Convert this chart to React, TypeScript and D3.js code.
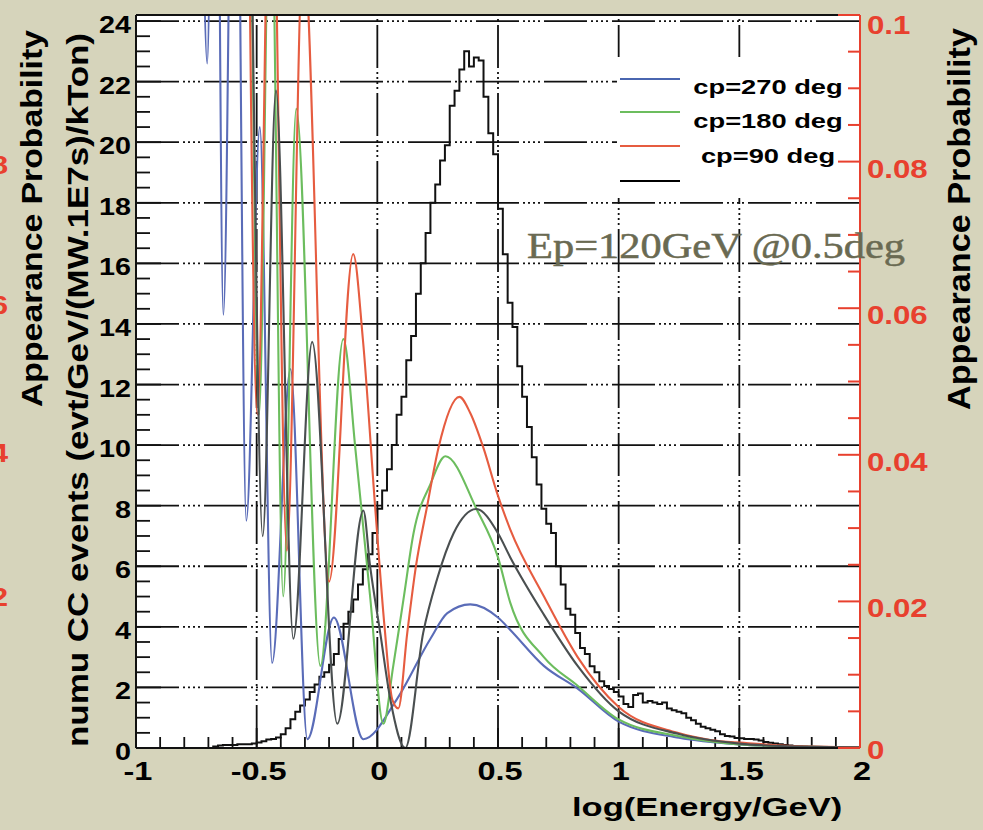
import React, { useEffect } from 'react';
import * as d3 from 'd3';

// ---------- data ----------
const xTickValues = [-1, -0.5, 0, 0.5, 1, 1.5, 2];
const xTickLabels = ['-1', '-0.5', '0', '0.5', '1', '1.5', '2'];
const yLeftTickValues = [0, 2, 4, 6, 8, 10, 12, 14, 16, 18, 20, 22, 24];
const yLeftTickLabels = ['0', '2', '4', '6', '8', '10', '12', '14', '16', '18', '20', '22', '24'];
const yRightTickValues = [0, 0.02, 0.04, 0.06, 0.08, 0.1];
const yRightTickLabels = ['0', '0.02', '0.04', '0.06', '0.08', '0.1'];
const ghostLabels = ['8', '6', '4', '2'];
const legendLabels = ['cp=270 deg', 'cp=180 deg', 'cp=90 deg', ''];

// numu CC event histogram (log E bins)
const histStart = -0.72;
const histBinWidth = 0.02;
const histValues = [
  0, 0, 0.05, 0.08, 0.1, 0.1, 0.1, 0.12, 0.12, 0.12,
  0.15, 0.18, 0.22, 0.28, 0.3, 0.35, 0.45, 0.65, 0.95, 1.2,
  1.4, 1.6, 1.85, 2.1, 2.35, 2.5, 2.75, 3.1, 3.6, 4.1,
  4.5, 4.9, 5.4, 5.9, 6.4, 7.1, 7.9, 8.5, 9.2, 10.0,
  11.0, 11.6, 12.8, 13.6, 15.0, 16.0, 17.0, 18.0, 18.6, 19.4,
  19.9, 21.2, 21.7, 22.4, 23.0, 22.5, 22.8, 22.7, 21.5, 20.3,
  19.6, 17.8, 16.3, 14.7, 13.9, 12.6, 11.6, 10.6, 9.6, 8.7,
  7.9, 7.4, 7.1, 6.0, 5.4, 4.6, 4.4, 3.8, 3.3, 3.1,
  2.7, 2.5, 2.2, 2.05, 1.95, 1.85, 1.7, 1.45, 1.35, 1.75,
  1.8, 1.5, 1.55, 1.5, 1.45, 1.5, 1.3, 1.25, 1.2, 1.15,
  1.0, 0.92, 0.8, 0.7, 0.65, 0.6, 0.55, 0.45, 0.4, 0.38,
  0.33, 0.32, 0.3, 0.3, 0.28, 0.25, 0.2, 0.17, 0.15, 0.12,
  0.1, 0.08, 0.06, 0.05, 0.04, 0.03, 0.03, 0.02, 0.02, 0.02,
  0.01, 0.01, 0.01, 0, 0, 0,
];

// appearance probability curves [log10(E/GeV), P]
const cp270: [number, number][] = [
  [-0.73, 0.132], [-0.705, 0.0934], [-0.672, 0.165], [-0.638, 0.0591], [-0.59, 0.157],
  [-0.543, 0.031], [-0.487, 0.0847], [-0.436, 0.0116], [-0.36, 0.0517], [-0.29, 0.0012],
  [-0.18, 0.0178], [-0.058, 0.0012], [0.08, 0.0066], [0.22, 0.0149], [0.29, 0.0184],
  [0.385, 0.0196], [0.5, 0.0178], [0.551, 0.0161], [0.69, 0.0112], [0.83, 0.0081],
  [1.0, 0.0036], [1.25, 0.0014], [1.5, 0.0005], [1.75, 0.0002], [2.0, 0.00005],
];
const cp180: [number, number][] = [
  [-0.56, 0.13], [-0.545, 0.15], [-0.49, 0.0455], [-0.443, 0.124], [-0.39, 0.0207],
  [-0.336, 0.0872], [-0.236, 0.0112], [-0.141, 0.0558], [-0.09, 0.0405], [-0.03, 0.0207],
  [0.025, 0.0033], [0.066, 0.0112], [0.108, 0.0202], [0.15, 0.0293], [0.22, 0.036],
  [0.282, 0.0398], [0.414, 0.0324], [0.5, 0.026], [0.551, 0.0198], [0.69, 0.0124],
  [0.83, 0.0085], [1.0, 0.0039], [1.25, 0.0016], [1.5, 0.0005], [1.75, 0.0002], [2.0, 0.00005],
];
const cp90: [number, number][] = [
  [-0.54, 0.14], [-0.497, 0.0455], [-0.44, 0.132], [-0.375, 0.0269], [-0.307, 0.1095],
  [-0.2, 0.0227], [-0.1, 0.0674], [-0.06, 0.0558], [-0.008, 0.0324], [0.03, 0.0165],
  [0.062, 0.0066], [0.087, 0.0054], [0.124, 0.0157], [0.16, 0.0248], [0.207, 0.0331],
  [0.253, 0.0409], [0.34, 0.0479], [0.385, 0.0457], [0.44, 0.0409], [0.497, 0.0347],
  [0.551, 0.0298], [0.69, 0.0207], [0.83, 0.0124], [1.0, 0.0056], [1.24, 0.0021],
  [1.38, 0.0011], [1.52, 0.0007], [1.7, 0.0003], [2.0, 0.0001],
];
const cp0: [number, number][] = [
  [-0.6, 0.124], [-0.545, 0.14], [-0.475, 0.0289], [-0.42, 0.0897], [-0.348, 0.0149],
  [-0.27, 0.0554], [-0.166, 0.0033], [-0.058, 0.0324], [-0.03, 0.0248], [0.012, 0.0157],
  [0.054, 0.0066], [0.116, 0.0], [0.19, 0.0157], [0.248, 0.0231], [0.316, 0.0293],
  [0.41, 0.0326], [0.5, 0.0293], [0.551, 0.026], [0.69, 0.0182], [0.83, 0.0112],
  [1.0, 0.005], [1.25, 0.0019], [1.5, 0.0006], [1.75, 0.0002], [2.0, 0.0001],
];

const curveSeries = [cp270, cp180, cp90, cp0];
const curveColors = ['#5a6cb8', '#6cbd5e', '#e65c40', '#4a4f50'];
const legendColors = ['#4a66b0', '#6cbd5e', '#e65c40', '#000000'];

const SANS = '"Liberation Sans", Arial, Helvetica, sans-serif';
const SERIF = '"Liberation Serif", "DejaVu Serif", serif';
const RED = '#e8402e';
const BG = '#d6d4bb';

export default function App() {
  useEffect(() => {
    document.body.style.margin = '0';
  }, []);

  const W = 983;
  const H = 830;
  const left = 136, right = 860, top = 15, bottom = 748;

  const x = d3.scaleLinear().domain([-1, 2]).range([left, right]);
  const yL = d3.scaleLinear().domain([0, 24.2]).range([bottom, top]);
  const yR = d3.scaleLinear().domain([0, 0.1]).range([bottom, top]);

  // histogram path (step)
  const histPts: [number, number][] = histValues.map((v, i) => [histStart + i * histBinWidth, v]);
  histPts.push([histStart + histValues.length * histBinWidth, histValues[histValues.length - 1]]);
  const histLine = d3.line<[number, number]>()
    .x(d => x(d[0]))
    .y(d => yL(d[1]))
    .curve(d3.curveStepAfter);

  const probLine = d3.line<[number, number]>()
    .x(d => x(d[0]))
    .y(d => yR(d[1]))
    .curve(d3.curveMonotoneX);

  const gridDash = '43 4 2 3 2 3 2 3 2 4';
  const yGrid = yLeftTickValues.filter(v => v > 0);
  const xGrid = xTickValues.filter(v => v > -1 && v < 2);

  const yMinor = d3.range(0, 24.01, 0.5);
  const xMinor = d3.range(-1, 2.001, 0.1);
  const rMinor = d3.range(0, 0.1001, 0.005);

  const stext = (
    key: string, tx: number, ty: number, txt: string, size: number,
    opts: { sx?: number; anchor?: string; fill?: string; rotate?: number; length?: number; family?: string; weight?: string } = {}
  ) => {
    const sx = opts.sx ?? 1.25;
    const tr = `translate(${tx},${ty}) scale(${sx},1)` + (opts.rotate ? ` rotate(${opts.rotate})` : '');
    return (
      <text
        key={key}
        transform={tr}
        fontSize={size}
        fontFamily={opts.family ?? SANS}
        fontWeight={opts.weight ?? 'bold'}
        textAnchor={opts.anchor ?? 'middle'}
        fill={opts.fill ?? '#000'}
        {...(opts.length ? { textLength: opts.length, lengthAdjust: 'spacingAndGlyphs' } : {})}
      >
        {txt}
      </text>
    );
  };

  return (
    <svg width={W} height={H} style={{ position: 'absolute', left: 0, top: 0, display: 'block' }}>
      <defs>
        <clipPath id="plotclip">
          <rect x={left} y={top} width={right - left} height={bottom - top} />
        </clipPath>
      </defs>
      <rect x={0} y={0} width={W} height={H} fill={BG} />
      <rect x={left} y={top} width={right - left} height={bottom - top} fill="#fff" />

      {/* grid */}
      <g stroke="#111" strokeWidth={1.8} strokeDasharray={gridDash} fill="none">
        {yGrid.map(v => (
          <line key={'gy' + v} x1={left} x2={right} y1={yL(v)} y2={yL(v)} />
        ))}
        {xGrid.map(v => (
          <line key={'gx' + v} x1={x(v)} x2={x(v)} y1={bottom} y2={top} />
        ))}
      </g>

      {/* left / bottom axis ticks */}
      <g stroke="#111" strokeWidth={1.8}>
        {yMinor.map((v, i) => {
          const major = i % 4 === 0;
          return <line key={'ym' + i} x1={left} x2={left + (major ? 25 : 14)} y1={yL(v)} y2={yL(v)} />;
        })}
        {xMinor.map((v, i) => {
          const major = i % 5 === 0;
          return <line key={'xm' + i} x1={x(v)} x2={x(v)} y1={bottom} y2={bottom - (major ? 20 : 11)} />;
        })}
      </g>

      {/* legend box */}
      <rect x={617} y={57} width={right - 617} height={141} fill="#fff" />

      {/* histogram and probability curves */}
      <g clipPath="url(#plotclip)">
        <path d={histLine(histPts) || ''} fill="none" stroke="#111" strokeWidth={2} />
        {curveSeries.map((s, i) => (
          <path key={'c' + i} d={probLine(s) || ''} fill="none" stroke={curveColors[i]} strokeWidth={2.1} />
        ))}
      </g>

      {/* frame */}
      <g stroke="#111" strokeWidth={2} fill="none">
        <line x1={left} x2={left} y1={top} y2={bottom} />
        <line x1={left} x2={right} y1={top} y2={top} />
        <line x1={left} x2={right} y1={bottom} y2={bottom} />
      </g>

      {/* right red axis */}
      <g stroke={RED} strokeWidth={2}>
        <line x1={right} x2={right} y1={top} y2={bottom} />
        {rMinor.map((v, i) => {
          const major = i % 4 === 0;
          return <line key={'rm' + i} x1={right} x2={right - (major ? 22 : 12)} y1={yR(v)} y2={yR(v)} />;
        })}
      </g>

      {/* legend */}
      {legendLabels.map((lab, i) => {
        const ly = [79, 112, 146, 181][i];
        const ty = [94, 128, 163, 0][i];
        return (
          <g key={'lg' + i}>
            <line x1={620} x2={680} y1={ly} y2={ly} stroke={legendColors[i]} strokeWidth={2} />
            {lab ? stext('lt' + i, 768, ty, lab, 21, { sx: 1.3 }) : null}
          </g>
        );
      })}

      {/* Ep annotation */}
      <text x={527} y={258} fontSize={35} fontFamily={SERIF} fill="#6a6a52" stroke="#6a6a52" strokeWidth={0.5}
        textLength={378} lengthAdjust="spacingAndGlyphs">
        Ep=120GeV @0.5deg
      </text>

      {/* left tick labels */}
      {yLeftTickValues.map((v, i) => stext('yl' + i, 131, yL(v) + 12, yLeftTickLabels[i], 23, { anchor: 'end' }))}
      {/* x tick labels */}
      {xTickValues.map((v, i) => stext('xl' + i, x(v) + 2, 780, xTickLabels[i], 25, { sx: 1.3 }))}
      {/* right tick labels */}
      {yRightTickValues.map((v, i) => {
        let off = 16;
        if (i === 0) off = 11;
        if (i === yRightTickValues.length - 1) off = 19;
        return stext('yr' + i, 867, yR(v) + off, yRightTickLabels[i], 26, { anchor: 'start', fill: RED, sx: 1.2 });
      })}
      {/* partially visible red labels at the far left edge */}
      {ghostLabels.map((t, i) => stext('gh' + i, 8, [174, 314, 462, 606][i], t, 26, { anchor: 'end', fill: RED, sx: 1.2 }))}

      {/* axis titles */}
      {stext('xt', 572, 816, 'log(Energy/GeV)', 25, { sx: 1.38, anchor: 'start' })}
      {stext('ylt', 88, 747, 'numu CC events (evt/GeV/(MW.1E7s)/kTon)', 23, { sx: 1.3, anchor: 'start', rotate: -90, length: 714 })}
      {stext('ypl', 42, 407, 'Appearance Probability', 23, { sx: 1.3, anchor: 'start', rotate: -90, length: 377 })}
      {stext('ypr', 970, 410, 'Appearance Probability', 24, { sx: 1.3, anchor: 'start', rotate: -90, length: 382 })}
    </svg>
  );
}
